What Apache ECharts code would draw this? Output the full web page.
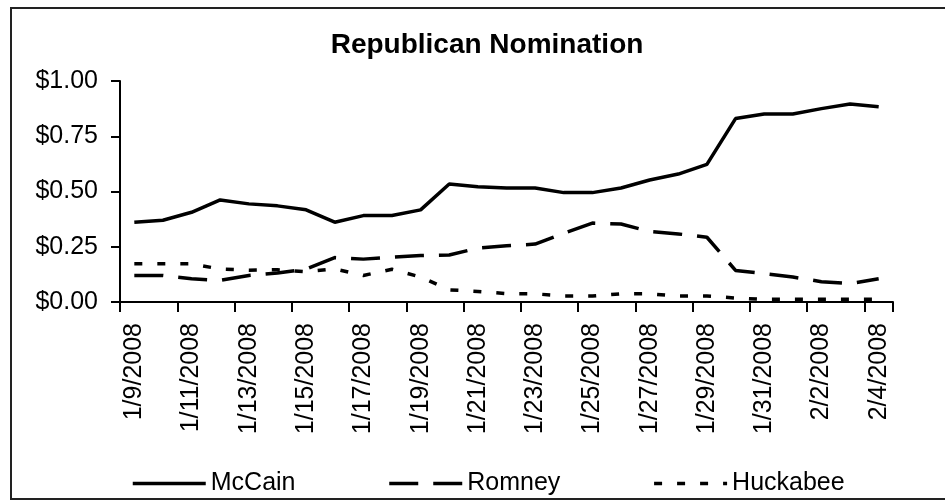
<!DOCTYPE html>
<html>
<head>
<meta charset="utf-8">
<script src="https://cdn.jsdelivr.net/npm/echarts@6/dist/echarts.min.js"></script>
<style>
  html, body { margin: 0; padding: 0; background: #fff; }
  #chart { width: 945px; height: 500px; }
</style>
</head>
<body>
<div id="chart"></div>
<script>
// Trading days shown on the category axis
const dates = [
  '1/9/2008', '1/10/2008', '1/11/2008', '1/12/2008', '1/13/2008', '1/14/2008',
  '1/15/2008', '1/16/2008', '1/17/2008', '1/18/2008', '1/19/2008', '1/20/2008',
  '1/21/2008', '1/22/2008', '1/23/2008', '1/24/2008', '1/25/2008', '1/26/2008',
  '1/27/2008', '1/28/2008', '1/29/2008', '1/30/2008', '1/31/2008', '2/1/2008',
  '2/2/2008', '2/3/2008', '2/4/2008'
];

// Contract prices in dollars per candidate
const mccain = [
  0.361, 0.370, 0.406, 0.462, 0.444, 0.435, 0.417, 0.361, 0.391, 0.391,
  0.417, 0.534, 0.522, 0.516, 0.516, 0.495, 0.495, 0.516, 0.552, 0.579,
  0.623, 0.830, 0.851, 0.851, 0.875, 0.896, 0.884
];
const romney = [
  0.120, 0.120, 0.105, 0.098, 0.120, 0.131, 0.149, 0.201, 0.194, 0.203,
  0.210, 0.213, 0.244, 0.254, 0.262, 0.311, 0.357, 0.353, 0.319, 0.308,
  0.293, 0.143, 0.129, 0.113, 0.092, 0.083, 0.105
];
const huckabee = [
  0.173, 0.173, 0.173, 0.149, 0.144, 0.146, 0.137, 0.150, 0.120, 0.148,
  0.113, 0.055, 0.048, 0.038, 0.037, 0.027, 0.027, 0.037, 0.037, 0.027,
  0.027, 0.018, 0.012, 0.012, 0.012, 0.012, 0.012
];

// Value axis ticks
const yTicks = { min: 0, max: 1, step: 0.25 };

const FONT = "'Liberation Sans', Arial, sans-serif";

const chart = echarts.init(document.getElementById('chart'), null, { renderer: 'canvas' });

function lineSeries(name, values, dash) {
  return {
    name: name,
    type: 'line',
    data: values,
    symbol: 'none',
    showSymbol: false,
    lineStyle: { color: '#000', width: 3.5, type: dash },
    itemStyle: { color: '#000' },
    emphasis: { disabled: true }
  };
}

chart.setOption({
  animation: false,
  backgroundColor: '#fff',
  title: {
    text: 'Republican Nomination',
    left: 482,
    top: 26,
    textAlign: 'center',
    textStyle: { fontFamily: FONT, fontSize: 28, fontWeight: 'bold', color: '#000' }
  },
  graphic: [{
    type: 'rect',
    shape: { x: 11, y: 8, width: 960, height: 491 },
    style: { fill: null, stroke: '#222', lineWidth: 2 },
    silent: true
  }],
  legend: {
    left: 131,
    top: 471,
    padding: 0,
    itemWidth: 73,
    itemHeight: 14,
    itemGap: 92,
    textStyle: { fontFamily: FONT, fontSize: 25, color: '#000' },
    // the legend keys are plain line samples, no point marker
    itemStyle: { color: 'rgba(0,0,0,0)', borderWidth: 0 },
    lineStyle: { width: 3.5 },
    data: ['McCain', 'Romney', 'Huckabee']
  },
  grid: { left: 120, right: 52, top: 81, bottom: 198, containLabel: false },
  xAxis: {
    type: 'category',
    data: dates,
    boundaryGap: true,
    axisLine: { lineStyle: { color: '#000', width: 2 } },
    axisTick: { show: true, interval: 1, length: 10, lineStyle: { color: '#000', width: 2 } },
    axisLabel: {
      interval: 1, rotate: 90, margin: 21,
      fontFamily: FONT, fontSize: 25, color: '#000'
    },
    splitLine: { show: false }
  },
  yAxis: {
    type: 'value',
    min: yTicks.min,
    max: yTicks.max,
    interval: yTicks.step,
    axisLine: { show: true, lineStyle: { color: '#000', width: 2 } },
    axisTick: { show: true, length: 9, lineStyle: { color: '#000', width: 2 } },
    axisLabel: {
      margin: 22,
      fontFamily: FONT, fontSize: 25, color: '#000',
      formatter: function (v) { return '$' + v.toFixed(2); }
    },
    splitLine: { show: false }
  },
  series: [
    lineSeries('McCain', mccain, 'solid'),
    lineSeries('Romney', romney, [29, 15]),
    lineSeries('Huckabee', huckabee, [8, 15])
  ]
});
</script>
</body>
</html>
